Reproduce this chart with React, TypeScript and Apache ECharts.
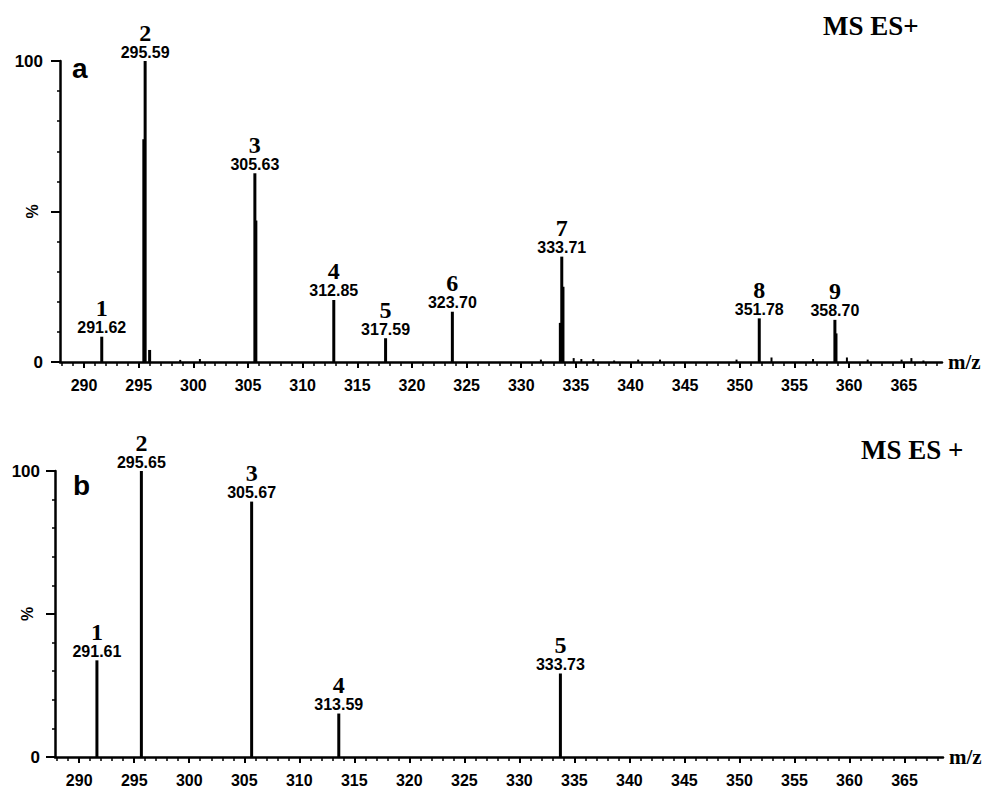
import React, { useEffect, useRef } from "react";
import * as echarts from "echarts";

// ---------- data ----------
const X_MIN = 287.8;
const X_MAX = 368.5;
const X_TICK_LABELS = [290, 295, 300, 305, 310, 315, 320, 325, 330, 335, 340, 345, 350, 355, 360, 365];
const X_MINOR_TICKS: number[] = [];
for (let v = 288; v <= 368; v++) X_MINOR_TICKS.push(v);

// panel a
const A_MZ = [291.62, 295.59, 305.63, 312.85, 317.59, 323.7, 333.71, 351.78, 358.7];
const A_INT = [8.4, 100, 62.7, 20.6, 7.9, 16.7, 35.0, 14.5, 14.0];
const A_NUM = ["1", "2", "3", "4", "5", "6", "7", "8", "9"];
// unresolved shoulders next to main peaks (panel a)
const A_SHOULDER_MZ = [295.47, 296.0, 305.72, 333.82, 333.58, 358.8];
const A_SHOULDER_INT = [74, 4, 47, 25, 13, 9.5];
// small noise peaks (panel a)
const A_NOISE_MZ = [298.8, 300.6, 331.8, 334.8, 335.5, 336.6, 338.5, 340.7, 342.7, 349.7, 352.9, 356.7, 359.8, 361.7, 364.8, 365.7, 366.8];
const A_NOISE_INT = [0.7, 1.0, 0.8, 1.3, 1.0, 1.0, 0.5, 0.8, 0.8, 0.8, 1.5, 1.0, 1.5, 0.8, 0.8, 1.3, 0.5];

// panel b
const B_MZ = [291.61, 295.65, 305.67, 313.59, 333.73];
const B_INT = [33.8, 100, 89.3, 15.2, 29.2];
const B_NUM = ["1", "2", "3", "4", "5"];

const SANS = "'Liberation Sans', Arial, sans-serif";
const SERIF = "'Liberation Serif', 'Times New Roman', serif";

const RICH = {
  n: { fontFamily: SERIF, fontWeight: "bold", fontSize: 24, lineHeight: 23, fill: "#000" },
  v: { fontFamily: SANS, fontWeight: "bold", fontSize: 16, lineHeight: 16, fill: "#000" },
};

function peakSeries(xi: number, yi: number, mz: number[], ints: number[], nums: string[] | null, width: number) {
  return {
    type: "custom",
    xAxisIndex: xi,
    yAxisIndex: yi,
    clip: false,
    data: mz.map((m, i) => [m, ints[i]]),
    renderItem: (params: any, api: any) => {
      const x = api.value(0);
      const h = api.value(1);
      const p0 = api.coord([x, 0]);
      const p1 = api.coord([x, h]);
      const children: any[] = [
        {
          type: "line",
          shape: { x1: p0[0], y1: p0[1], x2: p1[0], y2: p1[1] },
          style: { stroke: "#000", lineWidth: width },
        },
      ];
      if (nums) {
        children.push({
          type: "text",
          x: p1[0],
          y: p1[1] - 1,
          style: {
            text: `{n|${nums[params.dataIndex]}}\n{v|${x.toFixed(2)}}`,
            rich: RICH,
            align: "center",
            verticalAlign: "bottom",
          },
        });
      }
      return { type: "group", children };
    },
  };
}

function xAxes(gridIndex: number) {
  return [
    {
      type: "value",
      gridIndex,
      position: "bottom",
      min: X_MIN,
      max: X_MAX,
      name: "m/z",
      nameLocation: "end",
      nameGap: 6,
      nameTextStyle: { fontFamily: SERIF, fontWeight: "bold", fontSize: 21, color: "#000" },
      axisLine: { show: true, onZero: false, lineStyle: { color: "#000", width: 2.5 } },
      axisTick: { show: true, customValues: X_TICK_LABELS, length: 6, lineStyle: { color: "#000", width: 2 } },
      axisLabel: {
        customValues: X_TICK_LABELS,
        margin: 15,
        fontFamily: SANS,
        fontWeight: "bold",
        fontSize: 16,
        color: "#000",
      },
      splitLine: { show: false },
    },
    {
      type: "value",
      gridIndex,
      position: "bottom",
      min: X_MIN,
      max: X_MAX,
      axisLine: { show: false, onZero: false },
      axisTick: { show: true, customValues: X_MINOR_TICKS, length: 4, lineStyle: { color: "#000", width: 1.5 } },
      axisLabel: { show: false },
      splitLine: { show: false },
    },
  ];
}

function yAxes(gridIndex: number, labelMargin: number) {
  return [
    {
      type: "value",
      gridIndex,
      position: "left",
      min: 0,
      max: 100,
      interval: 10,
      axisLine: { show: true, onZero: false, lineStyle: { color: "#000", width: 2.5 } },
      axisTick: { show: true, length: 3, lineStyle: { color: "#000", width: 1.5 } },
      axisLabel: {
        formatter: (v: number) => (v === 0 || v === 100 ? String(v) : ""),
        margin: labelMargin,
        fontFamily: SANS,
        fontWeight: "bold",
        fontSize: 17,
        color: "#000",
      },
      splitLine: { show: false },
    },
    {
      type: "value",
      gridIndex,
      position: "left",
      min: 0,
      max: 100,
      interval: 50,
      axisLine: { show: false, onZero: false },
      axisTick: { show: true, length: 9, lineStyle: { color: "#000", width: 2 } },
      axisLabel: {
        formatter: (v: number) => (v === 50 ? "%" : ""),
        rotate: 90,
        margin: 20,
        fontFamily: SANS,
        fontWeight: "bold",
        fontSize: 16,
        color: "#000",
      },
      splitLine: { show: false },
    },
  ];
}

export default function App() {
  const ref = useRef<HTMLDivElement>(null);
  useEffect(() => {
    if (!ref.current) return;
    const chart = echarts.init(ref.current, null, { renderer: "svg" });
    chart.setOption({
      animation: false,
      backgroundColor: "#fff",
      grid: [
        { left: 60, top: 61, width: 882, height: 301 },
        { left: 55, top: 471, width: 888, height: 286 },
      ],
      xAxis: [...xAxes(0), ...xAxes(1)],
      yAxis: [...yAxes(0, 17), ...yAxes(1, 15)],
      series: [
        peakSeries(0, 0, A_NOISE_MZ, A_NOISE_INT, null, 2),
        peakSeries(0, 0, A_SHOULDER_MZ, A_SHOULDER_INT, null, 3),
        peakSeries(0, 0, A_MZ, A_INT, A_NUM, 3),
        peakSeries(2, 2, B_MZ, B_INT, B_NUM, 3),
      ],
      graphic: [
        {
          type: "text",
          left: 72,
          top: 54,
          style: { text: "a", fontFamily: SANS, fontWeight: "bold", fontSize: 28, fill: "#000" },
        },
        {
          type: "text",
          left: 73,
          top: 471,
          style: { text: "b", fontFamily: SANS, fontWeight: "bold", fontSize: 28, fill: "#000" },
        },
        {
          type: "text",
          left: 823,
          top: 12,
          style: { text: "MS ES+", fontFamily: SERIF, fontWeight: "bold", fontSize: 27, fill: "#000" },
        },
        {
          type: "text",
          left: 861,
          top: 436,
          style: { text: "MS ES +", fontFamily: SERIF, fontWeight: "bold", fontSize: 27, fill: "#000" },
        },
      ],
    });
    return () => chart.dispose();
  }, []);
  return (
    <div
      ref={ref}
      style={{ position: "fixed", left: 0, top: 0, width: 987, height: 791, background: "#fff" }}
    />
  );
}
